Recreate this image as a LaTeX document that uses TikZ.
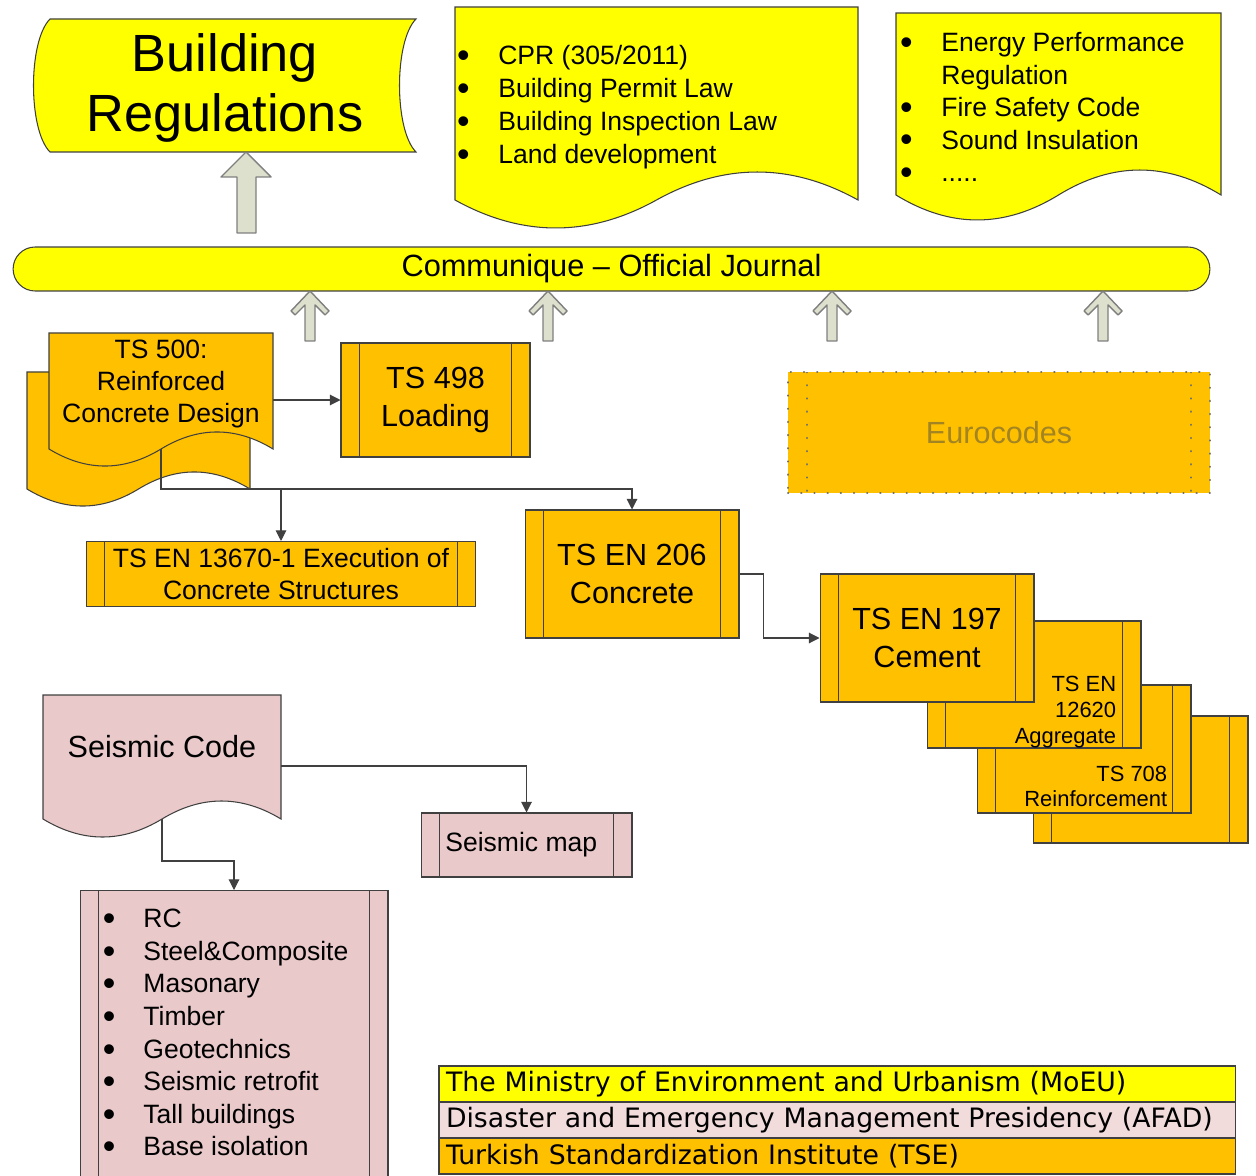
\documentclass[tikz,border=0pt]{standalone}
\usepackage{fontspec}
\usepackage{graphicx}
\setmainfont{Liberation Sans}
\newfontfamily\legendfont{DejaVu Sans}
\usetikzlibrary{calc,arrows.meta}

\definecolor{regyellow}{HTML}{FFFF00}
\definecolor{tseorange}{HTML}{FFC000}
\definecolor{afadpink}{HTML}{E9C9C9}
\definecolor{afadlight}{HTML}{F2DCDB}
\definecolor{arrowfill}{HTML}{DDE0CC}
\definecolor{arrowline}{HTML}{7F7F7F}
\definecolor{linec}{HTML}{404040}
\definecolor{dotgray}{HTML}{6E6E6E}
\definecolor{eurotext}{HTML}{A38422}

\newcommand{\listdot}{\raisebox{-0.11em}{\scalebox{1.35}{\textbullet}}}

\tikzset{
  outline/.style={draw=linec, line width=0.6pt},
  proc/.style={outline, fill=#1, inner sep=0pt, align=center,
    path picture={\draw[linec, line width=0.6pt]
      ([xshift=0.37cm]path picture bounding box.north west) -- ([xshift=0.37cm]path picture bounding box.south west)
      ([xshift=-0.37cm]path picture bounding box.north east) -- ([xshift=-0.37cm]path picture bounding box.south east);}},
  eurobox/.style={fill=tseorange, draw=dotgray, line width=1.3pt, line cap=round, dash pattern=on 0.1pt off 7.4pt,
    path picture={\draw[dotgray, line width=1.3pt, line cap=round, dash pattern=on 0.1pt off 7.4pt]
      ([xshift=0.38cm]path picture bounding box.north west) -- ([xshift=0.38cm]path picture bounding box.south west)
      ([xshift=-0.38cm]path picture bounding box.north east) -- ([xshift=-0.38cm]path picture bounding box.south east);}},
  conn/.style={draw=linec, line width=0.6pt, -{Triangle[length=6pt,width=6pt]}},
  blockarrow/.style={draw=arrowline, fill=arrowfill, line width=0.8pt, line join=round},
  bigtxt/.style={font=\fontsize{17.4}{21.3}\selectfont},
  midtxt/.style={font=\fontsize{15.1}{18.1}\selectfont},
  smalltxt/.style={font=\fontsize{12.5}{14.7}\selectfont},
  legendrow/.style={outline, fill=#1, outer sep=0pt, minimum width=15.94cm, minimum height=0.72cm,
    text width=15.66cm, inner xsep=0.14cm, inner ysep=0pt, align=left,
    font=\legendfont\fontsize{15.2}{18}\selectfont},
}

\begin{document}
\begin{tikzpicture}[x=0.02cm, y=-0.02cm]
  \useasboundingbox (0,0) rectangle (1256,1175);

  % regulations on top
  \draw[outline, fill=regyellow] (50,19) -- (416,19) .. controls (394,41) and (394,130) .. (416,152)
    -- (50,152) .. controls (28,130) and (28,41) .. (50,19) -- cycle;
  \node[font=\fontsize{29.8}{34.6}\selectfont, align=center] (breg) at (225,88) {Building\\Regulations};

  \draw[outline, fill=regyellow] (455,7) -- (858,7) -- (858,200)
    .. controls (790.8,162.7) and (723.7,162.7) .. (656.5,200)
    .. controls (589.3,237.3) and (522.2,237.3) .. (455,200) -- cycle;
  \node[anchor=north west, inner sep=0pt, font=\fontsize{15.1}{18.7}\selectfont] (laws) at (456.8,41.4)
    {\begin{tabular}{@{}l@{\hspace{16.3pt}}l@{}}
      \listdot & CPR (305/2011)\\
      \listdot & Building Permit Law\\
      \listdot & Building Inspection Law\\
      \listdot & Land development
    \end{tabular}};

  \draw[outline, fill=regyellow] (896,13) -- (1221,13) -- (1221,195)
    .. controls (1166.8,161.7) and (1112.7,161.7) .. (1058.5,195)
    .. controls (1004.3,228.3) and (950.2,228.3) .. (896,195) -- cycle;
  \node[anchor=north west, inner sep=0pt, font=\fontsize{15.1}{18.5}\selectfont] (codes) at (899.8,28.4)
    {\begin{tabular}{@{}l@{\hspace{16.3pt}}l@{}}
      \listdot & Energy Performance\\
               & Regulation\\
      \listdot & Fire Safety Code\\
      \listdot & Sound Insulation\\
      \listdot & .....
    \end{tabular}};

  % official journal
  \node[outline, fill=regyellow, rounded corners=0.44cm, minimum width=23.94cm, minimum height=0.88cm,
    font=\fontsize{17.5}{21}\selectfont] (journal) at (611.5,269) {Communique \textendash{} Official Journal};

  \draw[blockarrow] (246,152) -- (271,177) -- (256,177) -- (256,233) -- (237,233) -- (237,177) -- (221,177) -- cycle;
  \foreach \ax in {310,548,832,1103}
    \draw[blockarrow] (\ax,291) -- ++(19,20) -- ++(-4,4) -- ++(-10,-10) -- ++(0,36) -- ++(-10,0)
      -- ++(0,-36) -- ++(-10,10) -- ++(-4,-4) -- cycle;

  % TS 500
  \draw[outline, fill=tseorange] (27,372) -- (250,372) -- (250,489)
    .. controls (212.8,466.3) and (175.7,466.3) .. (138.5,489)
    .. controls (101.3,511.7) and (64.2,511.7) .. (27,489) -- cycle;
  \draw[outline, fill=tseorange] (49,333) -- (273,333) -- (273,449)
    .. controls (235.7,426.3) and (198.3,426.3) .. (161,449)
    .. controls (123.7,471.7) and (86.3,471.7) .. (49,449) -- cycle;
  \node[midtxt, align=center] (ts500) at (161,384) {TS 500:\\Reinforced\\Concrete Design};
  \coordinate (ts500east) at (273,400);
  \coordinate (ts500foot) at (161,449);

  \node[proc=tseorange, bigtxt, minimum width=3.78cm, minimum height=2.28cm] (ts498) at (435.5,400) {TS 498\\Loading};
  \node[proc=tseorange, midtxt, minimum width=7.8cm, minimum height=1.3cm] (en13670) at (281,574)
    {TS EN 13670-1 Execution of\\Concrete Structures};
  \node[proc=tseorange, bigtxt, minimum width=4.28cm, minimum height=2.56cm] (en206) at (632,574) {TS EN 206\\Concrete};

  % material standards
  \node[proc=tseorange, minimum width=4.3cm, minimum height=2.54cm] (extra) at (1140.5,779.5) {};
  \node[proc=tseorange, minimum width=4.28cm, minimum height=2.56cm] (ts708) at (1084,749) {};
  \node[smalltxt, align=right, inner sep=0pt, anchor=south east] (ts708txt)
    at ([xshift=-0.48cm, yshift=0.12cm]ts708.south east) {TS 708\\Reinforcement};
  \node[proc=tseorange, minimum width=4.28cm, minimum height=2.54cm] (en12620) at (1034,684.5) {};
  \node[smalltxt, align=right, inner sep=0pt, anchor=south east] (en12620txt)
    at ([xshift=-0.5cm]en12620.south east) {TS EN\\12620\\Aggregate};
  \node[proc=tseorange, bigtxt, minimum width=4.28cm, minimum height=2.56cm] (en197) at (927,638) {TS EN 197\\Cement};

  \node[eurobox, bigtxt, text=eurotext, minimum width=8.44cm, minimum height=2.42cm] (euro) at (999,432.5) {Eurocodes};

  \draw[conn] (ts500east) -- (ts498.west);
  \draw[conn] (ts500foot) -- ++(0,40) coordinate (tsbend) -| (en206.north);
  \draw[conn] (tsbend -| en13670.north) -- (en13670.north);
  \draw[conn] (en206.east) -- ++(24,0) |- (en197.west);

  % seismic code
  \draw[outline, fill=afadpink] (43,695) -- (281,695) -- (281,819)
    .. controls (241.3,795) and (201.7,795) .. (162,819)
    .. controls (122.3,843) and (82.7,843) .. (43,819) -- cycle;
  \node[bigtxt] (seiscode) at (162,747) {Seismic Code};
  \coordinate (seisright) at (281,766);
  \coordinate (seisfoot) at (162,819);

  \node[proc=afadpink, midtxt, minimum width=4.22cm, minimum height=1.28cm] (seismap) at (526.5,845) {Seismic map\hspace*{6pt}};
  \node[proc=afadpink, minimum width=6.16cm, minimum height=6cm, anchor=north] (seislist) at (234,890) {};
  \node[anchor=north west, inner sep=0pt, font=\fontsize{15.1}{18.55}\selectfont] (seisitems) at (102.4,904.6)
    {\begin{tabular}{@{}l@{\hspace{16pt}}l@{}}
      \listdot & RC\\
      \listdot & Steel\&Composite\\
      \listdot & Masonary\\
      \listdot & Timber\\
      \listdot & Geotechnics\\
      \listdot & Seismic retrofit\\
      \listdot & Tall buildings\\
      \listdot & Base isolation
    \end{tabular}};

  \draw[conn] (seisright) -| (seismap.north);
  \draw[conn] (seisfoot) -- ++(0,42) -| (seislist.north);

  % legend
  \node[legendrow=regyellow, anchor=north west] (moeu) at (439,1066) {The Ministry of Environment and Urbanism (MoEU)};
  \node[legendrow=afadlight, anchor=north west] (afad) at (moeu.south west) {Disaster and Emergency Management Presidency (AFAD)};
  \node[legendrow=tseorange, anchor=north west] (tse) at (afad.south west) {Turkish Standardization Institute (TSE)};
\end{tikzpicture}
\end{document}
